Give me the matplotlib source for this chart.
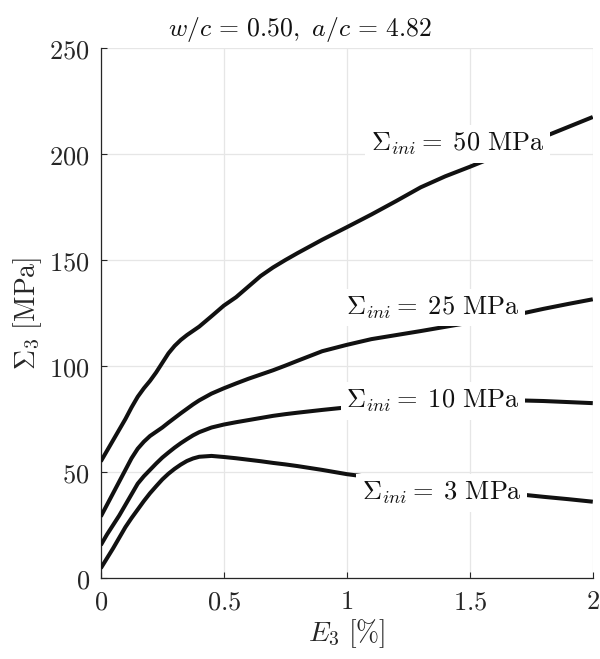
import matplotlib
matplotlib.use("Agg")
import matplotlib.pyplot as plt

plt.rcParams['mathtext.fontset'] = 'cm'
plt.rcParams['font.family'] = 'serif'
plt.rcParams['font.serif'] = ['DejaVu Serif']

strain = [0, 0.025, 0.05, 0.075, 0.1, 0.125, 0.15, 0.175, 0.2, 0.225, 0.25, 0.275, 0.3,
          0.325, 0.35, 0.375, 0.4, 0.45, 0.5, 0.55, 0.6, 0.65, 0.7, 0.75, 0.8, 0.9,
          1.0, 1.1, 1.2, 1.3, 1.4, 1.5, 1.6, 1.7, 1.8, 1.9, 2.0]
s50 = [55, 60, 65, 70, 75, 80.5, 85.5, 89.5, 93, 97, 101.5, 106, 109.5,
       112.3, 114.6, 116.6, 118.6, 123.5, 128.5, 132.5, 137.5, 142.5, 146.5, 150, 153.3, 159.6,
       165.5, 171.5, 177.8, 184.3, 189.5, 194, 198.7, 203.4, 208.1, 212.8, 217.5]
s25 = [29, 34.5, 40, 45.5, 51, 56.5, 61, 64.3, 67, 69, 71, 73.3, 75.5,
       77.7, 79.8, 81.9, 83.8, 87, 89.5, 91.8, 94, 96, 98, 100.2, 102.5, 107,
       110, 112.7, 114.6, 116.5, 118.5, 120.5, 122.5, 124.5, 127, 129.3, 131.5]
s10 = [15.5, 20.5, 25, 29.5, 34.5, 39.5, 44.5, 48, 51, 54, 56.8, 59.2, 61.5,
       63.6, 65.5, 67.3, 68.8, 71, 72.4, 73.5, 74.5, 75.5, 76.5, 77.3, 78, 79.3,
       80.5, 81.5, 82.3, 83, 83.5, 84, 84, 83.8, 83.5, 83, 82.5]
s3 = [4.6, 9.3, 14, 19, 24, 28.3, 32.3, 36.3, 40, 43.3, 46.5, 49.2, 51.5,
      53.5, 55.2, 56.4, 57.2, 57.6, 57.1, 56.5, 55.8, 55.1, 54.3, 53.6, 52.8, 51,
      49, 47.5, 46, 44.5, 43, 41.8, 40.6, 39.5, 38.3, 37.2, 36]

series = [s50, s25, s10, s3]
labels = [r'$\Sigma_{ini}=\;50\ \mathrm{MPa}$', r'$\Sigma_{ini}=\;25\ \mathrm{MPa}$',
          r'$\Sigma_{ini}=\;10\ \mathrm{MPa}$', r'$\Sigma_{ini}=\;3\ \mathrm{MPa}$']
label_x = [1.45, 1.35, 1.35, 1.385]
label_y = [204.8, 127.7, 83.4, 40.2]

xticks = [0, 0.5, 1, 1.5, 2]
xticklabels = ['$0$', '$0.5$', '$1$', '$1.5$', '$2$']
yticks = [0, 50, 100, 150, 200, 250]
yticklabels = ['$0$', '$50$', '$100$', '$150$', '$200$', '$250$']

fig = plt.figure(figsize=(6.0, 6.59), dpi=100)
ax = fig.add_axes([0.168, 0.1229, 0.82, 0.8041])

for s in series:
    ax.plot(strain, s, color='#111111', lw=2.9, solid_capstyle='butt',
            solid_joinstyle='round', zorder=3)

for lab, lx, ly in zip(labels, label_x, label_y):
    ax.text(lx, ly, lab, ha='center', va='center', fontsize=19, color='#111111',
            zorder=4, bbox=dict(facecolor='white', edgecolor='none', pad=4))

ax.set_xlim(0, 2)
ax.set_ylim(0, 250)
ax.set_xticks(xticks)
ax.set_xticklabels(xticklabels, fontsize=19)
ax.set_yticks(yticks)
ax.set_yticklabels(yticklabels, fontsize=19)
ax.tick_params(direction='in', length=4, width=0.8, color='#262626', pad=8, labelcolor='#262626')
ax.grid(True, color='#e6e6e6', lw=0.9)
ax.set_axisbelow(True)
for sp in ['top', 'right']:
    ax.spines[sp].set_visible(False)
for sp in ['left', 'bottom']:
    ax.spines[sp].set_color('#262626')
    ax.spines[sp].set_linewidth(0.9)

ax.set_xlabel(r'$E_3\ [\%]$', fontsize=20, labelpad=2, color='#262626')
ax.set_ylabel(r'$\Sigma_3\ [\mathrm{MPa}]$', fontsize=20, labelpad=4, color='#262626')
fig.text(0.5, 0.955, r'$w/c\,=\,0.50,\ a/c\,=\,4.82$', ha='center', va='center',
         fontsize=18.5, color='#111111')

fig.savefig('out.png', dpi=100)
